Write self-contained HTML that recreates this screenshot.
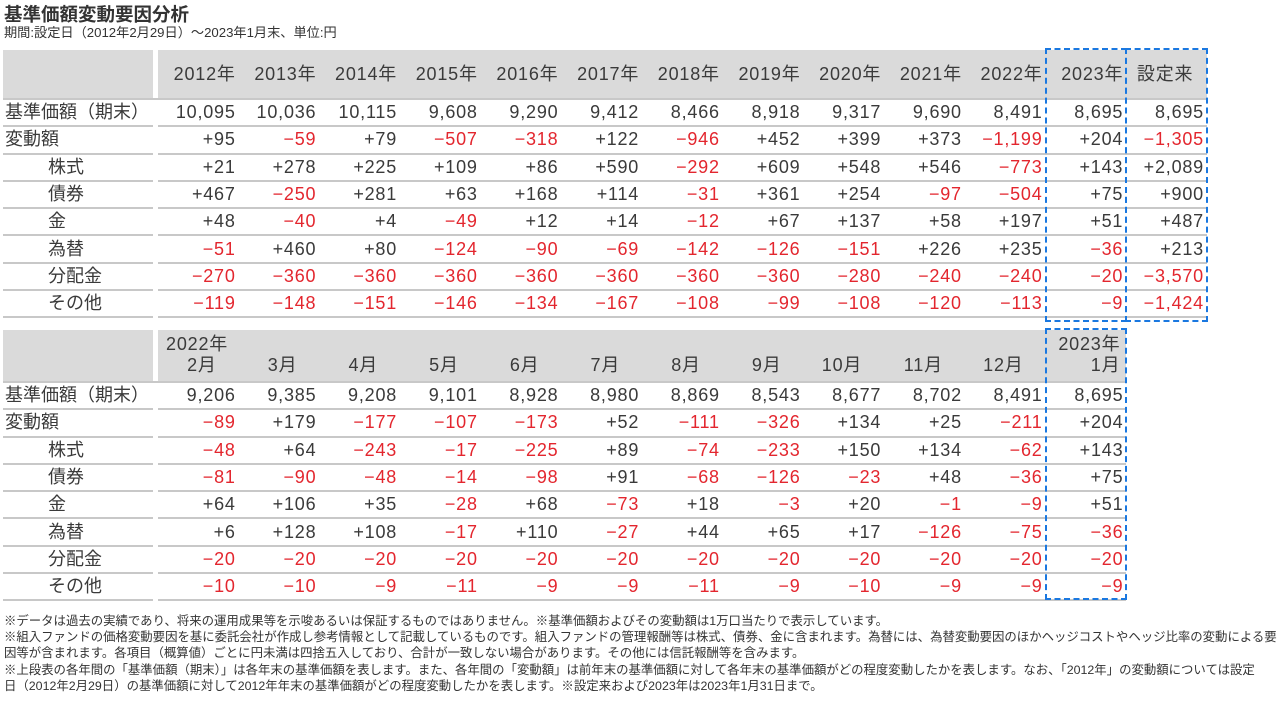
<!DOCTYPE html>
<html><head><meta charset="utf-8">
<style>
body{margin:0;width:1280px;height:701px;background:#fff;font-family:"Liberation Sans","Noto Sans CJK JP",sans-serif;color:#333;position:relative;overflow:hidden}
.t1{position:absolute;left:4px;top:1px;font-size:18.5px;font-weight:bold;color:#333}
.t2{position:absolute;left:4px;top:22px;font-size:13.2px}
table{position:absolute;left:3px;border-collapse:separate;border-spacing:0;table-layout:fixed;font-size:18px;letter-spacing:0.8px;color:#3a3a3a}
td{padding:0 3px 0 0;text-align:right;white-space:nowrap;border-bottom:2px solid #c8c8c8;height:25.3px;line-height:25px;overflow:visible}
td.l{text-align:left;padding-left:2px;letter-spacing:0}
td.i{text-align:left;padding-left:45px;letter-spacing:0}
td.g{border:none;padding:0}
tr.h td{background:#dadada;border-bottom:2px solid #c8c8c8}
tr.h td.g{background:#fff}
.r{color:#e3262e}
.box{position:absolute;border:2px dashed #1a78e0;box-sizing:border-box}
.hb td{vertical-align:bottom;line-height:21px;padding-bottom:5px;padding-right:0}
.notes{position:absolute;left:4px;top:613px;font-size:12.4px;line-height:16.2px;width:1274px}
</style></head><body>
<div class="t1">基準価額変動要因分析</div>
<div class="t2">期間:設定日（2012年2月29日）～2023年1月末、単位:円</div>
<table style="top:50px;width:1204px">
<colgroup><col style="width:150px"><col style="width:5px"><col span="13" style="width:80.7px"></colgroup>
<tr class="h"><td style="height:48px"></td><td class="g"></td><td>2012年</td><td>2013年</td><td>2014年</td><td>2015年</td><td>2016年</td><td>2017年</td><td>2018年</td><td>2019年</td><td>2020年</td><td>2021年</td><td>2022年</td><td>2023年</td><td style="text-align:center">設定来</td></tr>
<tr><td class="l">基準価額（期末）</td><td class="g"></td><td>10,095</td><td>10,036</td><td>10,115</td><td>9,608</td><td>9,290</td><td>9,412</td><td>8,466</td><td>8,918</td><td>9,317</td><td>9,690</td><td>8,491</td><td>8,695</td><td>8,695</td></tr>
<tr><td class="l">変動額</td><td class="g"></td><td>+95</td><td class="r">−59</td><td>+79</td><td class="r">−507</td><td class="r">−318</td><td>+122</td><td class="r">−946</td><td>+452</td><td>+399</td><td>+373</td><td class="r">−1,199</td><td>+204</td><td class="r">−1,305</td></tr>
<tr><td class="i">株式</td><td class="g"></td><td>+21</td><td>+278</td><td>+225</td><td>+109</td><td>+86</td><td>+590</td><td class="r">−292</td><td>+609</td><td>+548</td><td>+546</td><td class="r">−773</td><td>+143</td><td>+2,089</td></tr>
<tr><td class="i">債券</td><td class="g"></td><td>+467</td><td class="r">−250</td><td>+281</td><td>+63</td><td>+168</td><td>+114</td><td class="r">−31</td><td>+361</td><td>+254</td><td class="r">−97</td><td class="r">−504</td><td>+75</td><td>+900</td></tr>
<tr><td class="i">金</td><td class="g"></td><td>+48</td><td class="r">−40</td><td>+4</td><td class="r">−49</td><td>+12</td><td>+14</td><td class="r">−12</td><td>+67</td><td>+137</td><td>+58</td><td>+197</td><td>+51</td><td>+487</td></tr>
<tr><td class="i">為替</td><td class="g"></td><td class="r">−51</td><td>+460</td><td>+80</td><td class="r">−124</td><td class="r">−90</td><td class="r">−69</td><td class="r">−142</td><td class="r">−126</td><td class="r">−151</td><td>+226</td><td>+235</td><td class="r">−36</td><td>+213</td></tr>
<tr><td class="i">分配金</td><td class="g"></td><td class="r">−270</td><td class="r">−360</td><td class="r">−360</td><td class="r">−360</td><td class="r">−360</td><td class="r">−360</td><td class="r">−360</td><td class="r">−360</td><td class="r">−280</td><td class="r">−240</td><td class="r">−240</td><td class="r">−20</td><td class="r">−3,570</td></tr>
<tr><td class="i">その他</td><td class="g"></td><td class="r">−119</td><td class="r">−148</td><td class="r">−151</td><td class="r">−146</td><td class="r">−134</td><td class="r">−167</td><td class="r">−108</td><td class="r">−99</td><td class="r">−108</td><td class="r">−120</td><td class="r">−113</td><td class="r">−9</td><td class="r">−1,424</td></tr>
</table>
<table style="top:330px;width:1123.4px">
<colgroup><col style="width:150px"><col style="width:5px"><col span="12" style="width:80.7px"></colgroup>
<tr class="h hb"><td style="height:46px"></td><td class="g"></td><td style="text-align:left"><div style="padding-left:8px">2022年</div><div style="text-align:right;margin-right:22px">2月</div></td><td><span style="margin-right:22px">3月</span></td><td><span style="margin-right:22px">4月</span></td><td><span style="margin-right:22px">5月</span></td><td><span style="margin-right:22px">6月</span></td><td><span style="margin-right:22px">7月</span></td><td><span style="margin-right:22px">8月</span></td><td><span style="margin-right:22px">9月</span></td><td><span style="margin-right:22px">10月</span></td><td><span style="margin-right:22px">11月</span></td><td><span style="margin-right:22px">12月</span></td><td><div style="margin-right:6px">2023年</div><div style="margin-right:6px">1月</div></td></tr>
<tr><td class="l">基準価額（期末）</td><td class="g"></td><td>9,206</td><td>9,385</td><td>9,208</td><td>9,101</td><td>8,928</td><td>8,980</td><td>8,869</td><td>8,543</td><td>8,677</td><td>8,702</td><td>8,491</td><td>8,695</td></tr>
<tr><td class="l">変動額</td><td class="g"></td><td class="r">−89</td><td>+179</td><td class="r">−177</td><td class="r">−107</td><td class="r">−173</td><td>+52</td><td class="r">−111</td><td class="r">−326</td><td>+134</td><td>+25</td><td class="r">−211</td><td>+204</td></tr>
<tr><td class="i">株式</td><td class="g"></td><td class="r">−48</td><td>+64</td><td class="r">−243</td><td class="r">−17</td><td class="r">−225</td><td>+89</td><td class="r">−74</td><td class="r">−233</td><td>+150</td><td>+134</td><td class="r">−62</td><td>+143</td></tr>
<tr><td class="i">債券</td><td class="g"></td><td class="r">−81</td><td class="r">−90</td><td class="r">−48</td><td class="r">−14</td><td class="r">−98</td><td>+91</td><td class="r">−68</td><td class="r">−126</td><td class="r">−23</td><td>+48</td><td class="r">−36</td><td>+75</td></tr>
<tr><td class="i">金</td><td class="g"></td><td>+64</td><td>+106</td><td>+35</td><td class="r">−28</td><td>+68</td><td class="r">−73</td><td>+18</td><td class="r">−3</td><td>+20</td><td class="r">−1</td><td class="r">−9</td><td>+51</td></tr>
<tr><td class="i">為替</td><td class="g"></td><td>+6</td><td>+128</td><td>+108</td><td class="r">−17</td><td>+110</td><td class="r">−27</td><td>+44</td><td>+65</td><td>+17</td><td class="r">−126</td><td class="r">−75</td><td class="r">−36</td></tr>
<tr><td class="i">分配金</td><td class="g"></td><td class="r">−20</td><td class="r">−20</td><td class="r">−20</td><td class="r">−20</td><td class="r">−20</td><td class="r">−20</td><td class="r">−20</td><td class="r">−20</td><td class="r">−20</td><td class="r">−20</td><td class="r">−20</td><td class="r">−20</td></tr>
<tr><td class="i">その他</td><td class="g"></td><td class="r">−10</td><td class="r">−10</td><td class="r">−9</td><td class="r">−11</td><td class="r">−9</td><td class="r">−9</td><td class="r">−11</td><td class="r">−9</td><td class="r">−10</td><td class="r">−9</td><td class="r">−9</td><td class="r">−9</td></tr>
</table>
<div class="box" style="left:1045px;top:48px;width:82px;height:274px"></div>
<div class="box" style="left:1125px;top:48px;width:83px;height:274px"></div>
<div class="box" style="left:1045px;top:328px;width:82px;height:272px"></div>
<div class="notes">※データは過去の実績であり、将来の運用成果等を示唆あるいは保証するものではありません。※基準価額およびその変動額は1万口当たりで表示しています。<br>※組入ファンドの価格変動要因を基に委託会社が作成し参考情報として記載しているものです。組入ファンドの管理報酬等は株式、債券、金に含まれます。為替には、為替変動要因のほかヘッジコストやヘッジ比率の変動による要<br>因等が含まれます。各項目（概算値）ごとに円未満は四捨五入しており、合計が一致しない場合があります。その他には信託報酬等を含みます。<br>※上段表の各年間の「基準価額（期末）」は各年末の基準価額を表します。また、各年間の「変動額」は前年末の基準価額に対して各年末の基準価額がどの程度変動したかを表します。なお、「2012年」の変動額については設定<br>日（2012年2月29日）の基準価額に対して2012年年末の基準価額がどの程度変動したかを表します。※設定来および2023年は2023年1月31日まで。</div>
</body></html>
